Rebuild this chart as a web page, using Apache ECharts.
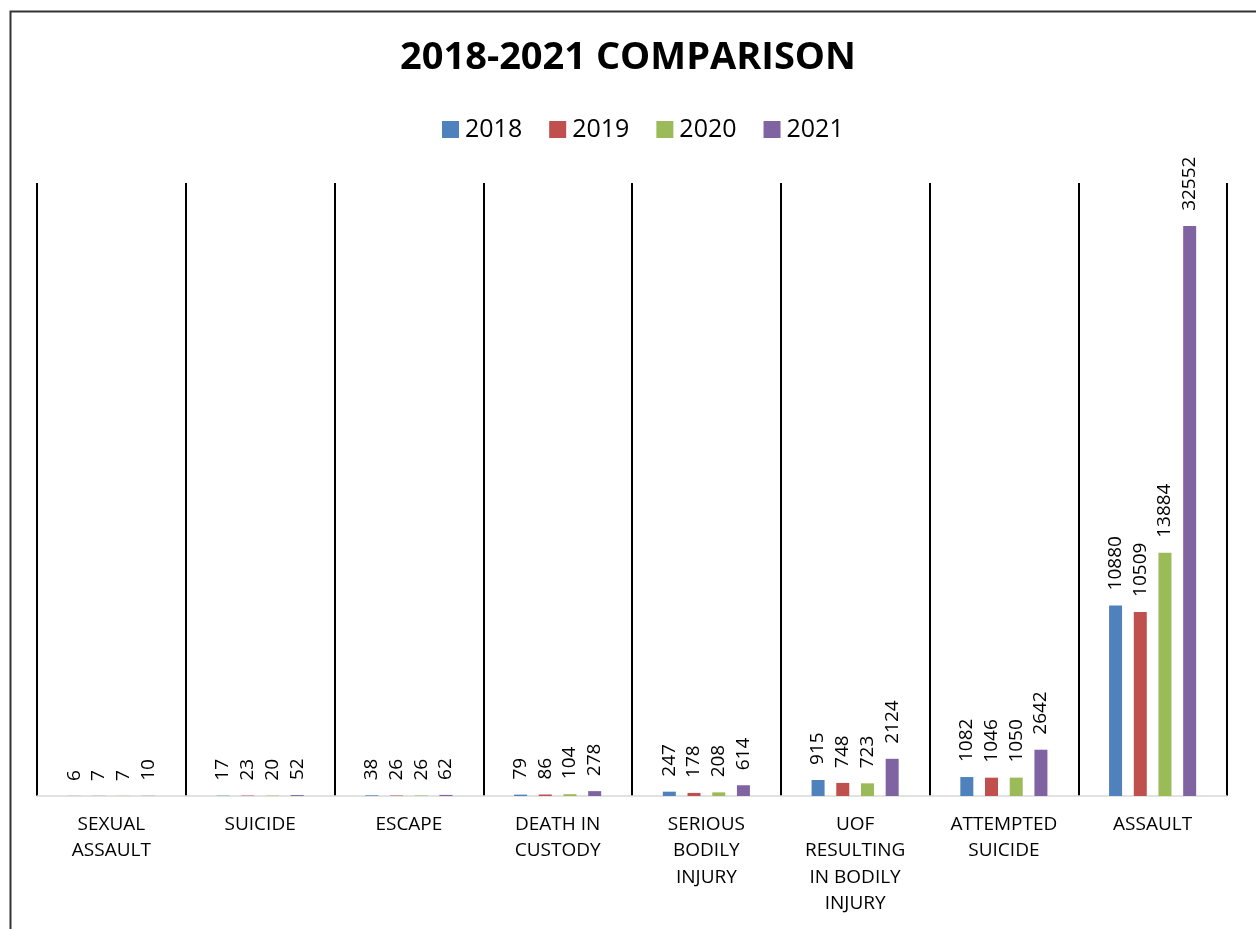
<!DOCTYPE html>
<html>
<head>
<meta charset="utf-8">
<script src="https://cdn.jsdelivr.net/npm/echarts@6/dist/echarts.min.js"></script>
<style>
html,body{margin:0;padding:0;background:#fff;}
#chart{width:1256px;height:929px;}
</style>
</head>
<body>
<div id="chart"></div>
<script>
var categories = ['SEXUAL\nASSAULT', 'SUICIDE', 'ESCAPE', 'DEATH IN\nCUSTODY', 'SERIOUS\nBODILY\nINJURY', 'UOF\nRESULTING\nIN BODILY\nINJURY', 'ATTEMPTED\nSUICIDE', 'ASSAULT'];
var years = ['2018', '2019', '2020', '2021'];
var data2018 = [6, 17, 38, 79, 247, 915, 1082, 10880];
var data2019 = [7, 23, 26, 86, 178, 748, 1046, 10509];
var data2020 = [7, 20, 26, 104, 208, 723, 1050, 13884];
var data2021 = [10, 52, 62, 278, 614, 2124, 2642, 32552];
var colors = ['#4F81BD', '#C0504D', '#9BBB59', '#8064A2'];

var font = '"Open Sans", "Noto Sans", sans-serif';
var allData = [data2018, data2019, data2020, data2021];

// 每个年份一个系列
var series = [];
for (var i = 0; i < years.length; i++) {
	series.push({
		name: years[i],
		type: 'bar',
		data: allData[i],
		barWidth: 13,
		barGap: '90%',
		itemStyle: { color: colors[i] },
		label: {
			show: true,
			position: 'top',
			rotate: 90,
			align: 'left',
			verticalAlign: 'middle',
			distance: 15,
			color: '#000',
			fontFamily: font,
			fontSize: 19
		}
	});
}

var myChart = echarts.init(document.getElementById('chart'));
var option = {
	backgroundColor: '#fff',
	animation: false,
	color: colors,
	title: {
		text: '2018-2021 COMPARISON',
		left: 'center',
		top: 34,
		textStyle: { fontFamily: font, fontWeight: 'bold', fontSize: 38, color: '#000' }
	},
	legend: {
		data: years,
		top: 112,
		left: 437,
		itemWidth: 17,
		itemHeight: 17,
		itemGap: 27,
		icon: 'rect',
		textStyle: { fontFamily: font, fontSize: 25, color: '#000', padding: [0, 0, 0, 1] }
	},
	grid: { left: 37, right: 29, top: 183, bottom: 133 },
	xAxis: {
		type: 'category',
		data: categories,
		axisLine: { lineStyle: { color: '#d9d9d9', width: 1.5 } },
		axisTick: { show: false },
		splitLine: { show: true, interval: 0, lineStyle: { color: '#000', width: 2 } },
		axisLabel: {
			interval: 0,
			margin: 15,
			color: '#000',
			fontFamily: font,
			fontSize: 19,
			lineHeight: 26.5
		}
	},
	yAxis: {
		type: 'value',
		min: 0,
		max: 35000,
		show: false
	},
	graphic: [{
		type: 'rect',
		left: 8,
		top: 9,
		shape: { width: 1247, height: 960 },
		style: { fill: 'none', stroke: '#333', lineWidth: 2 },
		silent: true
	}],
	series: series
};
myChart.setOption(option);
</script>
</body>
</html>
